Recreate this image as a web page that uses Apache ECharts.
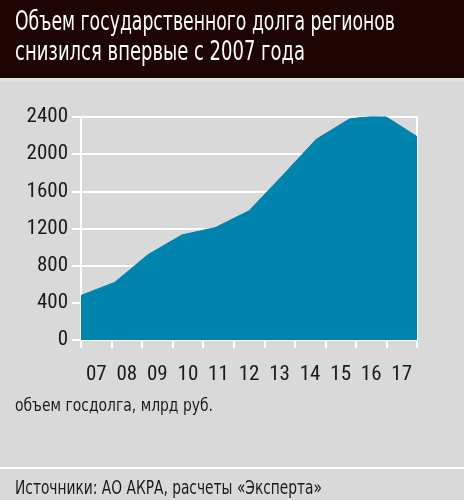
<!DOCTYPE html>
<html><head><meta charset="utf-8">
<script src="https://cdn.jsdelivr.net/npm/echarts@6/dist/echarts.min.js"></script>
<style>html,body{margin:0;padding:0;background:#d9d9d9}#c{width:464px;height:500px}</style>
</head><body><div id="c"></div>
<script>
var years = ['07','08','09','10','11','12','13','14','15','16','17'];
var debt = [480, 620, 920, 1130, 1210, 1390, 1770, 2160, 2380, 2420, 2190];
var yTicks = [0, 400, 800, 1200, 1600, 2000, 2400];
var titleLine1 = 'Объем государственного долга регионов';
var titleLine2 = 'снизился впервые с 2007 года';
var unitText = 'объем госдолга, млрд руб.';
var sourceText = 'Источники: АО АКРА, расчеты «Эксперта»';

var TEXT_FONT = "'DejaVu Sans', sans-serif";
var measureCtx = document.createElement('canvas').getContext('2d');
function textWidth(str, font) { measureCtx.font = font; return measureCtx.measureText(str).width; }
function fitScale(str, size, target) { return target / textWidth(str, size + 'px ' + TEXT_FONT); }

// choose narrowest available family for axis labels
var candidates = ["'Liberation Sans Narrow'", "'DejaVu Sans Condensed'", "'Roboto Condensed'", "Roboto", "'Liberation Sans'", "'DejaVu Sans'"];
var AXIS_FONT = candidates[0], best = 1e9;
candidates.forEach(function (f) { var w = textWidth('2400', '20px ' + f); if (w < best) { best = w; AXIS_FONT = f; } });
var axisSize = Math.max(15, Math.min(20, Math.round(20 * 40 / best)));

var s1 = fitScale(titleLine1, 26, 380);
var s2 = fitScale(titleLine2, 26, 290);
var sU = fitScale(unitText, 18, 198);
var sS = fitScale(sourceText, 20, 307);

function scaledText(txt, x, y, size, sc, color) {
  return {type: 'text', x: x, y: y, scaleX: sc, scaleY: 1, z: 10,
          style: {text: txt, x: 0, y: 0, fill: color, font: size + 'px ' + TEXT_FONT, align: 'left', verticalAlign: 'middle'}};
}

var chart = echarts.init(document.getElementById('c'), null, {renderer: 'canvas'});
chart.setOption({
  backgroundColor: '#d9d9d9',
  animation: false,
  graphic: [
    {type: 'rect', x: 0, y: 0, z: -10, shape: {width: 464, height: 78}, style: {fill: '#1e0504'}},
    {type: 'rect', x: 0, y: 78, z: -10, shape: {width: 464, height: 4}, style: {fill: '#e3e3e3'}},
    scaledText(titleLine1, 15, 23, 26, s1, '#ffffff'),
    scaledText(titleLine2, 15, 53, 26, s2, '#ffffff'),
    scaledText(unitText, 15, 406, 18, sU, '#1a1a1a'),
    {type: 'rect', x: 0, y: 467, shape: {width: 464, height: 2}, style: {fill: '#ffffff'}},
    scaledText(sourceText, 15, 489, 20, sS, '#1a1a1a')
  ],
  grid: {left: 81, right: 47, top: 117, bottom: 160, show: false},
  xAxis: [
    {type: 'category', data: years, boundaryGap: true, position: 'bottom',
     axisLine: {show: true, lineStyle: {color: '#ffffff', width: 2}},
     axisTick: {show: true, length: 8, lineStyle: {color: '#ffffff', width: 2}},
     axisLabel: {color: '#1a1a1a', fontSize: axisSize + 1, fontFamily: AXIS_FONT, margin: 24},
     splitLine: {show: false}},
    {type: 'category', data: years, boundaryGap: false, show: false}
  ],
  yAxis: [
    {type: 'value', min: yTicks[0], max: yTicks[yTicks.length - 1], interval: 400,
     axisLine: {show: true, onZero: false, lineStyle: {color: '#ffffff', width: 2}},
     axisTick: {show: true, length: 9, lineStyle: {color: '#ffffff', width: 2}},
     axisLabel: {color: '#1a1a1a', fontSize: axisSize + 1, fontFamily: AXIS_FONT, margin: 13,
                 formatter: function (v) { return String(v); }},
     splitLine: {show: true, lineStyle: {color: '#ffffff', width: 2}}},
    {type: 'value', min: 0, max: 2400, interval: 400, position: 'right',
     axisLine: {show: true, lineStyle: {color: '#ffffff', width: 2}},
     axisTick: {show: false}, axisLabel: {show: false}, splitLine: {show: false}}
  ],
  series: [{
    type: 'line', xAxisIndex: 1, yAxisIndex: 0, data: debt,
    symbol: 'none', smooth: false,
    lineStyle: {color: '#0083ad', width: 1},
    areaStyle: {color: '#0083ad', opacity: 1},
    z: 3
  }]
});
</script></body></html>
